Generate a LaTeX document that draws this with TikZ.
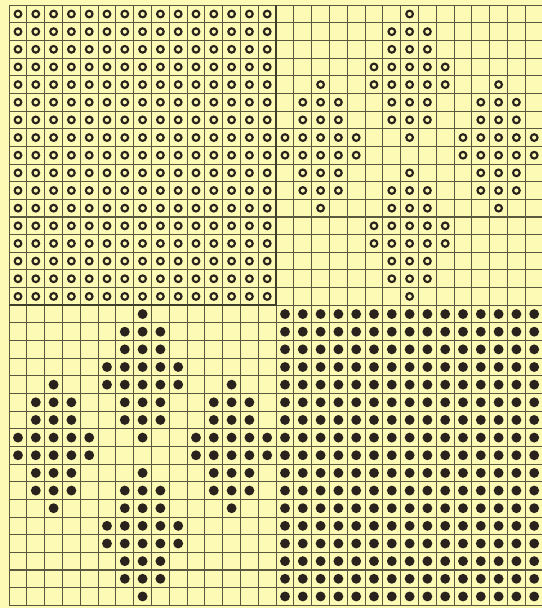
\documentclass[tikz,border=0pt]{standalone}
\definecolor{paper}{RGB}{252,250,180}
\definecolor{gridc}{RGB}{90,88,62}
\definecolor{ink}{RGB}{42,34,28}
\tikzset{
  gridline/.style={draw=gridc, line width=0.8pt},
  borderline/.style={draw=gridc!70!black, line width=1.5pt},
  opencirc/.style={draw=ink, line width=1.6pt},
  fulldot/.style={fill=ink}
}
\begin{document}
\begin{tikzpicture}[x=0.75pt,y=-0.75pt]
\fill[paper] (0,0) rectangle (542,608);
\useasboundingbox (0,0) rectangle (542,608);
\begin{scope}
\clip (0,0) rectangle (542,608);
% grid
\foreach \k in {0,...,30}
  \draw[gridline] ({9.1+17.8*\k},5.2) -- ({9.1+17.8*\k},605.3);
\foreach \r in {0,...,34}
  \draw[gridline] (9.1,{5.2+17.65*\r}) -- (545,{5.2+17.65*\r});
% quadrant borders
\draw[borderline] (276.1,5.2) -- (276.1,305.3) -- (9.1,305.3);
% top-left: open circles everywhere
\foreach \c in {0,...,14}
  \foreach \r in {0,...,16}
    \draw[opencirc] ({18+17.8*\c},{14+17.65*\r}) circle[radius=2.5pt];
% bottom-right: filled dots everywhere
\foreach \c in {15,...,29}
  \foreach \r in {17,...,33}
    \fill[fulldot] ({18+17.8*\c},{14+17.65*\r}) circle[radius=3.7pt];
% top-right clusters (open)
\foreach \cx/\cy in {22/0,17/4,27/4,22/9}
  \foreach \dx/\dy in {0/0,-1/1,0/1,1/1,-1/2,0/2,1/2,-2/3,-1/3,0/3,1/3,2/3,-2/4,-1/4,0/4,1/4,2/4,-1/5,0/5,1/5,-1/6,0/6,1/6,0/7}
    \draw[opencirc] ({18+17.8*(\cx+(\dx))},{14+17.65*(\cy+(\dy))}) circle[radius=2.5pt];
% bottom-left clusters (filled)
\foreach \cx/\cy in {7/17,2/21,12/21,7/26}
  \foreach \dx/\dy in {0/0,-1/1,0/1,1/1,-1/2,0/2,1/2,-2/3,-1/3,0/3,1/3,2/3,-2/4,-1/4,0/4,1/4,2/4,-1/5,0/5,1/5,-1/6,0/6,1/6,0/7}
    \fill[fulldot] ({18+17.8*(\cx+(\dx))},{14+17.65*(\cy+(\dy))}) circle[radius=3.7pt];
\end{scope}
\end{tikzpicture}
\end{document}
